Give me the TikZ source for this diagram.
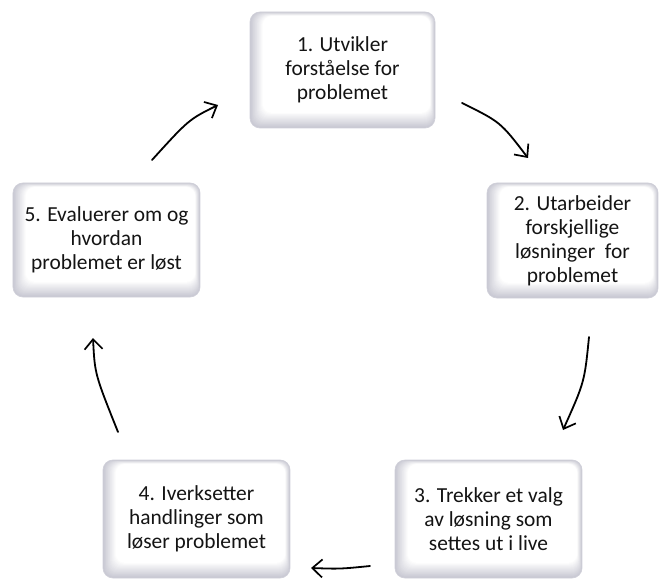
\documentclass[tikz,border=0pt]{standalone}
\usepackage{fontspec}
\setmainfont{Carlito}
\usetikzlibrary{arrows.meta,calc}
\definecolor{rim}{RGB}{200,200,210}
\definecolor{txt}{RGB}{20,20,20}
\tikzset{
  boxst/.style={rounded corners=10bp, draw=rim!85!white, line width=0.7pt,
    inner sep=0pt, align=center, text=txt,
    font=\fontsize{21.5}{24}\selectfont,
    path picture={
      \fill[rim] (path picture bounding box.south west) rectangle (path picture bounding box.north east);
      \foreach \i in {1,...,16}{
        \pgfmathsetmacro\c{100-100*\i/16}
        \fill[rim!\c!white, rounded corners=9bp]
          ([shift={(\i*0.8pt,\i*0.95pt)}]path picture bounding box.south west) rectangle
          ([shift={(-\i*0.3pt,-\i*0.25pt)}]path picture bounding box.north east);
      }
    }},
  arr/.style={line width=1.8bp, black, line cap=round,
    -{Straight Barb[length=10bp,width=18bp,line width=1.7bp]}}
}
\begin{document}
\begin{tikzpicture}[x=1bp,y=-1bp]
\useasboundingbox (0,0) rectangle (661,579);
\node[boxst, minimum width=185bp, minimum height=116bp] (b1) at (342.5,70) {1. Utvikler\\forståelse for\\problemet};
\node[boxst, minimum width=171bp, minimum height=115bp] (b2) at (572.5,240.5) {2. Utarbeider\\forskjellige\\løsninger~ for\\problemet};
\node[boxst, minimum width=187bp, minimum height=118bp] (b3) at (488.5,519) {3. Trekker et valg\\av løsning som\\settes ut i live};
\node[boxst, minimum width=187bp, minimum height=118bp] (b4) at (196.5,519) {4. Iverksetter\\handlinger som\\løser problemet};
\node[boxst, minimum width=187bp, minimum height=114bp] (b5) at (106.5,240) {5. Evaluerer om og\\hvordan\\problemet er løst};

\coordinate (a1s) at (462,103); \coordinate (a1e) at (528,158);
\coordinate (a2s) at (589,337); \coordinate (a2e) at (563,430);
\coordinate (a3s) at (370,566); \coordinate (a3e) at (311,568);
\coordinate (a4s) at (118,432); \coordinate (a4e) at (93,338);
\coordinate (a5s) at (152,160); \coordinate (a5e) at (218,105);

\draw[arr] (a1s) .. controls (500.5,122) .. (a1e);
\draw[arr] (a2s) .. controls (584.5,382) .. (a2e);
\draw[arr] (a3s) .. controls (340,569) .. (a3e);
\draw[arr] (a4s) .. controls (94.8,374) .. (a4e);
\draw[arr] (a5s) .. controls (188.7,119.6) .. (a5e);
\end{tikzpicture}
\end{document}
